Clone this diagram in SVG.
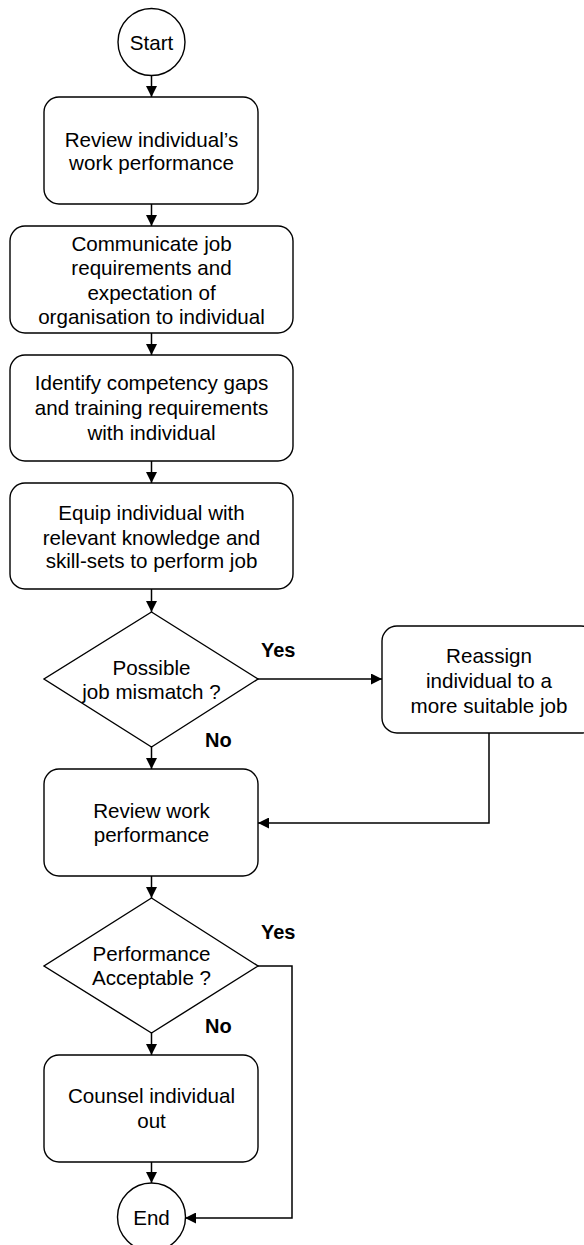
<svg xmlns="http://www.w3.org/2000/svg" width="584" height="1245" viewBox="0 0 584 1245">
<defs>
<marker id="arr" viewBox="0 0 10 10" refX="10" refY="5" markerWidth="11" markerHeight="11" markerUnits="userSpaceOnUse" orient="auto">
<path d="M0,0 L10,5 L0,10 Z" fill="#000"/>
</marker>
<style>
.shape{fill:#fff;stroke:#000;stroke-width:1.4}
.t{font-family:"Liberation Sans",Arial,sans-serif;font-size:20.6px;fill:#000;text-anchor:middle}
.lbl{font-family:"Liberation Sans",Arial,sans-serif;font-size:20px;font-weight:bold;fill:#000}
.c{fill:none;stroke:#000;stroke-width:1.5;marker-end:url(#arr)}
</style>
</defs>
<rect width="584" height="1245" fill="#fff"/>
<g id="connectors">
<line class="c" x1="151.5" y1="75.5" x2="151.5" y2="97"/>
<line class="c" x1="151.5" y1="204" x2="151.5" y2="226"/>
<line class="c" x1="151.5" y1="333" x2="151.5" y2="355"/>
<line class="c" x1="151.5" y1="461" x2="151.5" y2="483"/>
<line class="c" x1="151.5" y1="589" x2="151.5" y2="612"/>
<line class="c" x1="258" y1="679" x2="382" y2="679"/>
<line class="c" x1="151.5" y1="747" x2="151.5" y2="769"/>
<polyline class="c" points="489,733 489,823 258,823"/>
<line class="c" x1="151.5" y1="876" x2="151.5" y2="898"/>
<polyline class="c" points="258,966 292,966 292,1218 185,1218"/>
<line class="c" x1="151.5" y1="1033" x2="151.5" y2="1055"/>
<line class="c" x1="151.5" y1="1162" x2="151.5" y2="1183"/>
<text class="lbl" x="261" y="657">Yes</text>
<text class="lbl" x="205" y="747">No</text>
<text class="lbl" x="261" y="939">Yes</text>
<text class="lbl" x="205" y="1033">No</text>
</g>
<g id="start">
<circle class="shape" cx="151.5" cy="42" r="33.5"/>
<text class="t" x="151.5" y="50">Start</text>
</g>
<g id="review-individual">
<rect class="shape" x="44" y="97" width="214" height="107" rx="15"/>
<text class="t" x="151.5" y="147">Review individual’s</text>
<text class="t" x="151.5" y="170">work performance</text>
</g>
<g id="communicate">
<rect class="shape" x="10" y="226" width="283" height="107" rx="15"/>
<text class="t" x="151.5" y="251">Communicate job</text>
<text class="t" x="151.5" y="275">requirements and</text>
<text class="t" x="151.5" y="300">expectation of</text>
<text class="t" x="151.5" y="324">organisation to individual</text>
</g>
<g id="identify">
<rect class="shape" x="10" y="355" width="283" height="106" rx="15"/>
<text class="t" x="151.5" y="390">Identify competency gaps</text>
<text class="t" x="151.5" y="415">and training requirements</text>
<text class="t" x="151.5" y="440">with individual</text>
</g>
<g id="equip">
<rect class="shape" x="10" y="483" width="283" height="106" rx="15"/>
<text class="t" x="151.5" y="520">Equip individual with</text>
<text class="t" x="151.5" y="545">relevant knowledge and</text>
<text class="t" x="151.5" y="568">skill-sets to perform job</text>
</g>
<g id="mismatch">
<polygon class="shape" points="151.5,612 258,679 151.5,747 44,679"/>
<text class="t" x="151.5" y="675">Possible</text>
<text class="t" x="151.5" y="699">job mismatch ?</text>
</g>
<g id="reassign">
<rect class="shape" x="382" y="626" width="214" height="107" rx="15"/>
<text class="t" x="489" y="663">Reassign</text>
<text class="t" x="489" y="688">individual to a</text>
<text class="t" x="489" y="713">more suitable job</text>
</g>
<g id="review-work">
<rect class="shape" x="44" y="769" width="214" height="107" rx="15"/>
<text class="t" x="151.5" y="818">Review work</text>
<text class="t" x="151.5" y="842">performance</text>
</g>
<g id="acceptable">
<polygon class="shape" points="151.5,898 258,966 151.5,1033 44,966"/>
<text class="t" x="151.5" y="961">Performance</text>
<text class="t" x="151.5" y="985">Acceptable ?</text>
</g>
<g id="counsel">
<rect class="shape" x="44" y="1055" width="214" height="107" rx="15"/>
<text class="t" x="151.5" y="1103">Counsel individual</text>
<text class="t" x="151.5" y="1128">out</text>
</g>
<g id="end">
<circle class="shape" cx="151.5" cy="1217" r="34"/>
<text class="t" x="151.5" y="1225">End</text>
</g>
</svg>
